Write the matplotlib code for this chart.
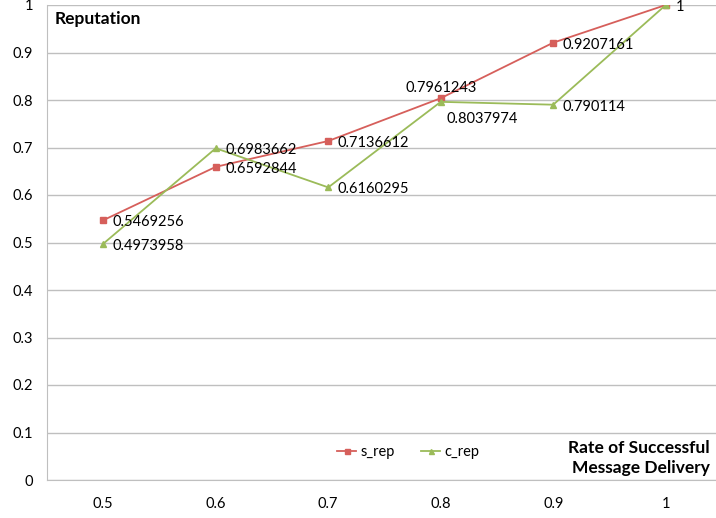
import matplotlib.pyplot as plt

# --- datos ---
tasas = [0.5, 0.6, 0.7, 0.8, 0.9, 1.0]
tasa_labels = ["0.5", "0.6", "0.7", "0.8", "0.9", "1"]
s_rep = [0.5469256, 0.6592844, 0.7136612, 0.8037974, 0.9207161, 1.0]
c_rep = [0.4973958, 0.6983662, 0.6160295, 0.7961243, 0.790114, 1.0]
# texto de etiqueta tal como aparece en la imagen
s_text = ["0.5469256", "0.6592844", "0.7136612", "0.8037974", "0.9207161", "1"]
c_text = ["0.4973958", "0.6983662", "0.6160295", "0.7961243", "0.790114", ""]

rojo = "#D65F5B"
verde = "#9BBB59"
gris = "#BFBFBF"

plt.rcParams['font.family'] = ['Lato', 'DejaVu Sans']

fig = plt.figure(figsize=(7.16, 5.18), dpi=100)
ax = fig.add_axes([47 / 716, 38 / 518, 1 - 47 / 716, 475 / 518])

ax.plot(tasas, s_rep, color=rojo, marker="s", markersize=4.5, linewidth=1.3, label="s_rep")
ax.plot(tasas, c_rep, color=verde, marker="^", markersize=4.5, linewidth=1.3, label="c_rep")

# etiquetas de datos (desplazamientos en puntos)
for i, (x, y) in enumerate(zip(tasas, s_rep)):
    if s_text[i] == "0.8037974":
        ax.annotate(s_text[i], (x, y), xytext=(4, -15), textcoords="offset points",
                    fontsize=10.5, ha="left", va="center")
    else:
        ax.annotate(s_text[i], (x, y), xytext=(7, -1.5), textcoords="offset points",
                    fontsize=10.5, ha="left", va="center")
for i, (x, y) in enumerate(zip(tasas, c_rep)):
    if not c_text[i]:
        continue
    if c_text[i] == "0.7961243":
        ax.annotate(c_text[i], (x, y), xytext=(0, 10), textcoords="offset points",
                    fontsize=10.5, ha="center", va="center")
    else:
        ax.annotate(c_text[i], (x, y), xytext=(7, -1.5), textcoords="offset points",
                    fontsize=10.5, ha="left", va="center")

ax.set_xlim(0.45, 0.45 + 669 / 1125)
ax.set_ylim(0, 1)
ax.set_xticks(tasas)
ax.set_xticklabels(tasa_labels)
ax.set_yticks([i / 10 for i in range(11)])
ax.set_yticklabels(["0", "0.1", "0.2", "0.3", "0.4", "0.5", "0.6", "0.7", "0.8", "0.9", "1"])
ax.tick_params(length=0, labelsize=10.5, pad=10)
ax.tick_params(axis="x", pad=12)
ax.grid(axis="y", color=gris, linewidth=1)
ax.set_axisbelow(True)
for lado in ["top", "right"]:
    ax.spines[lado].set_visible(False)
ax.spines["left"].set_color(gris)
ax.spines["bottom"].set_color(gris)

ax.text(8 / 669, 0.97, "Reputation", transform=ax.transAxes, fontsize=12.5,
        fontweight="bold", ha="left", va="center")
ax.text(663 / 669, 0.046, "Rate of Successful\nMessage Delivery", transform=ax.transAxes,
        fontsize=12.5, fontweight="bold", ha="right", va="center", linespacing=1.3)

ax.legend(loc="center", bbox_to_anchor=(0.54, 0.059), ncol=2, frameon=False,
          fontsize=10.5, handlelength=1.3, columnspacing=1.8, handletextpad=0.3,
          markerscale=0.8)

fig.savefig("out.png", dpi=100)
